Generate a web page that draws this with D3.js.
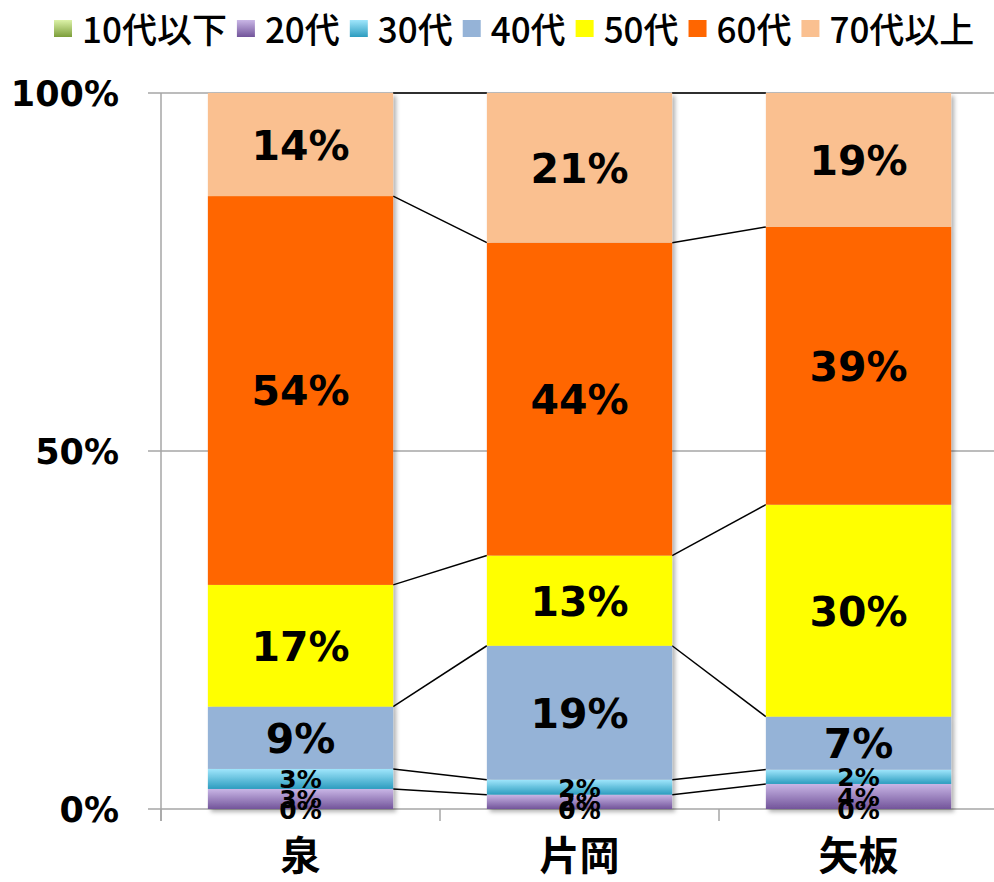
<!DOCTYPE html>
<html>
<head>
<meta charset="utf-8">
<script src="https://cdn.jsdelivr.net/npm/d3@7/dist/d3.min.js"></script>
<style>
  body { margin: 0; background: #fff; }
  .num { font-family: "DejaVu Sans", sans-serif; font-weight: bold; }
  .jp { font-family: "Noto Sans CJK JP", sans-serif; }
</style>
</head>
<body>
<div id="chart"></div>
<script>
var categories = ["泉", "片岡", "矢板"];
var seriesNames = ["10代以下", "20代", "30代", "40代", "50代", "60代", "70代以上"];
var v10 = [0, 0, 0];
var v20 = [2.8, 2.0, 3.5];
var v30 = [2.8, 2.1, 2.0];
var v40 = [8.7, 18.7, 7.4];
var v50 = [17.0, 12.6, 29.6];
var v60 = [54.3, 43.7, 38.8];
var v70 = [14.4, 20.9, 18.7];
var yTicks = [0, 50, 100];

var seriesValues = [v10, v20, v30, v40, v50, v60, v70];
var colors = ["#a6cc6a", "#9e84c4", "#5ec2e0", "#95b3d7", "#ffff00", "#ff6600", "#fac090"];
// gradient stops for the three small series (top, bottom)
var grads = [["#dcf2a8", "#7c9e3a"], ["#c9b6e6", "#72549a"], ["#a0e6fc", "#2c9cbf"]];

var width = 994, height = 882;
var margin = {top: 93, left: 161, bottom: 73};

var rows = categories.map(function(c, i) {
  var r = {cat: c};
  seriesNames.forEach(function(s, j) { r[s] = seriesValues[j][i]; });
  return r;
});
var stacked = d3.stack().keys(seriesNames)(rows);

var svg = d3.select("#chart").append("svg")
  .attr("width", width)
  .attr("height", height);

var defs = svg.append("defs");
grads.forEach(function(g, i) {
  var lg = defs.append("linearGradient")
    .attr("id", "grad" + i)
    .attr("x1", 0).attr("y1", 0).attr("x2", 0).attr("y2", 1);
  lg.append("stop").attr("offset", "0%").attr("stop-color", g[0]);
  lg.append("stop").attr("offset", "100%").attr("stop-color", g[1]);
});
var shadow = defs.append("filter").attr("id", "shadow")
  .attr("x", "-10%").attr("y", "-10%").attr("width", "130%").attr("height", "130%");
shadow.append("feDropShadow")
  .attr("dx", 3).attr("dy", 3).attr("stdDeviation", 2)
  .attr("flood-color", "#000").attr("flood-opacity", 0.3);

function fillFor(i) { return i < 3 ? "url(#grad" + i + ")" : colors[i]; }

var step = 279;
var xScale = d3.scaleBand()
  .domain(categories)
  .range([margin.left, margin.left + 3 * step])
  .paddingInner(0.336)
  .paddingOuter(0.168);

var yScale = d3.scaleLinear()
  .domain([0, 100])
  .range([809, margin.top]);

// gridlines
svg.append("g")
  .selectAll("line")
  .data(yTicks)
  .enter().append("line")
    .attr("x1", margin.left - 13)
    .attr("x2", width)
    .attr("y1", function(d) { return yScale(d); })
    .attr("y2", function(d) { return yScale(d); })
    .attr("stroke", "#a6a6a6")
    .attr("stroke-width", 1.5);

// y axis line
svg.append("line")
  .attr("x1", margin.left).attr("x2", margin.left)
  .attr("y1", yScale(100)).attr("y2", yScale(0) + 12)
  .attr("stroke", "#a6a6a6").attr("stroke-width", 1.5);

// x category tick marks
svg.append("g")
  .selectAll("line")
  .data(categories)
  .enter().append("line")
    .attr("x1", function(d) { return xScale(d) - step * 0.168; })
    .attr("x2", function(d) { return xScale(d) - step * 0.168; })
    .attr("y1", yScale(0))
    .attr("y2", yScale(0) + 12)
    .attr("stroke", "#a6a6a6").attr("stroke-width", 1.5);

// y labels
svg.append("g")
  .selectAll("text")
  .data(yTicks)
  .enter().append("text")
    .attr("class", "num")
    .attr("x", 119)
    .attr("y", function(d) { return yScale(d) + 1; })
    .attr("text-anchor", "end")
    .attr("dominant-baseline", "central")
    .attr("font-size", 35)
    .text(function(d) { return d + "%"; });

// series lines
for (var s = 1; s < stacked.length; s++) {
  for (var c = 0; c < categories.length - 1; c++) {
    svg.append("line")
      .attr("x1", xScale(categories[c]) + xScale.bandwidth())
      .attr("x2", xScale(categories[c + 1]))
      .attr("y1", yScale(stacked[s][c][1]))
      .attr("y2", yScale(stacked[s][c + 1][1]))
      .attr("stroke", "#000")
      .attr("stroke-width", 1.5);
  }
}

// bars
var barGroup = svg.append("g").attr("filter", "url(#shadow)");
stacked.forEach(function(layer, i) {
  barGroup.selectAll(".bar" + i)
    .data(layer)
    .enter().append("rect")
      .attr("x", function(d) { return xScale(d.data.cat); })
      .attr("y", function(d) { return yScale(d[1]); })
      .attr("width", xScale.bandwidth())
      .attr("height", function(d) { return yScale(d[0]) - yScale(d[1]); })
      .attr("fill", fillFor(i));
});

// segment labels
stacked.forEach(function(layer, i) {
  svg.selectAll(".lab" + i)
    .data(layer)
    .enter().append("text")
      .attr("class", "num")
      .attr("x", function(d) { return xScale(d.data.cat) + xScale.bandwidth() / 2; })
      .attr("y", function(d) { return yScale((d[0] + d[1]) / 2) + 1; })
      .attr("text-anchor", "middle")
      .attr("dominant-baseline", "central")
      .attr("font-size", i < 3 ? 25 : 41)
      .attr("fill", "#000")
      .text(function(d) { return Math.round(d[1] - d[0]) + "%"; });
});

// category labels
svg.selectAll(".cat")
  .data(categories)
  .enter().append("text")
    .attr("class", "jp")
    .attr("x", function(d) { return xScale(d) + xScale.bandwidth() / 2; })
    .attr("y", 853)
    .attr("text-anchor", "middle")
    .attr("dominant-baseline", "central")
    .attr("font-size", 40)
    .attr("font-weight", "bold")
    .text(function(d) { return d; });

// legend
var lx = 54;
seriesNames.forEach(function(name, i) {
  svg.append("rect")
    .attr("x", lx).attr("y", 20)
    .attr("width", 18).attr("height", 17)
    .attr("fill", fillFor(i));
  var t = svg.append("text")
    .attr("class", "jp")
    .attr("x", lx + 28)
    .attr("y", 27)
    .attr("dominant-baseline", "central")
    .attr("font-size", 35)
    .attr("font-weight", 500)
    .text(name);
  lx = lx + 28 + t.node().getComputedTextLength() + 10;
});
</script>
</body>
</html>
